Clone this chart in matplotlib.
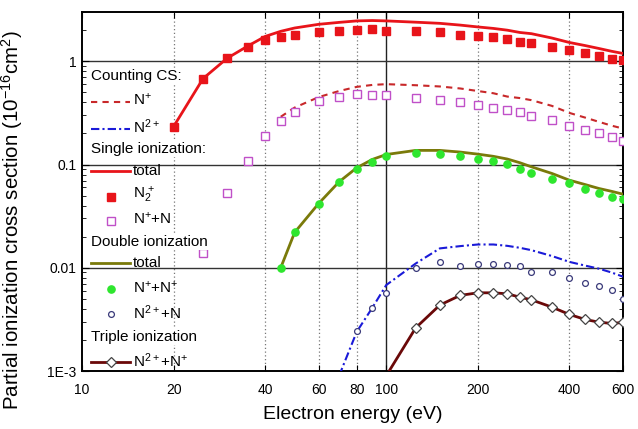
import numpy as np
import matplotlib
matplotlib.use("Agg")
import matplotlib.pyplot as plt
from matplotlib.lines import Line2D

plt.rcParams['font.family'] = ['Liberation Sans', 'DejaVu Sans']
plt.rcParams['mathtext.default'] = 'regular'

nan = np.nan

# Electron energies (eV)
energy = [20, 25, 30, 35, 40, 45, 50, 60, 70, 80, 90, 100, 125, 150, 175,
          200, 225, 250, 275, 300, 350, 400, 450, 500, 550, 600]

# Single ionization (10^-16 cm^2)
single_total = [0.233, 0.68, 1.07, 1.40, 1.74, 1.95, 2.10, 2.28, 2.38, 2.46, 2.48,
                2.46, 2.39, 2.33, 2.24, 2.15, 2.08, 2.00, 1.90, 1.85, 1.68, 1.52,
                1.42, 1.33, 1.25, 1.19]
n2_plus = [0.233, 0.68, 1.07, 1.36, 1.59, 1.70, 1.79, 1.90, 1.95, 2.00, 2.04,
           1.96, 1.95, 1.90, 1.81, 1.77, 1.70, 1.66, 1.54, 1.49, 1.38, 1.28,
           1.19, 1.13, 1.05, 1.02]
np_n = [nan, 0.0139, 0.0524, 0.109, 0.189, 0.264, 0.323, 0.41, 0.452, 0.478, 0.475,
        0.472, 0.44, 0.426, 0.404, 0.381, 0.356, 0.336, 0.319, 0.298, 0.272, 0.237,
        0.216, 0.201, 0.185, 0.169]

# Counting cross sections
count_n_plus = [nan, nan, nan, nan, nan, 0.29, 0.356, 0.45, 0.515, 0.565, 0.59,
                0.60, 0.586, 0.57, 0.545, 0.515, 0.49, 0.455, 0.44, 0.42, 0.37,
                0.316, 0.285, 0.259, 0.238, 0.223]
count_n2_plus = [nan, nan, nan, nan, nan, nan, nan, nan, 0.0009, 0.0024, 0.0041,
                 0.0068, 0.011, 0.0154, 0.0162, 0.0168, 0.0168, 0.0163, 0.0156,
                 0.0148, 0.013, 0.0114, 0.0105, 0.0098, 0.009, 0.0082]

# Double ionization
double_total = [nan, nan, nan, nan, nan, 0.010, 0.022, 0.042, 0.068, 0.093, 0.112,
                0.125, 0.137, 0.137, 0.132, 0.126, 0.12, 0.113, 0.104, 0.095,
                0.082, 0.0705, 0.064, 0.0586, 0.055, 0.0516]
np_np = [nan, nan, nan, nan, nan, 0.010, 0.0223, 0.0413, 0.067, 0.090, 0.106,
         0.12, 0.129, 0.127, 0.121, 0.113, 0.107, 0.101, 0.0908, 0.0836, 0.0731,
         0.0659, 0.0573, 0.0524, 0.0482, 0.0465]
n2p_n = [nan, nan, nan, nan, nan, nan, nan, nan, nan, 0.00242, 0.00406,
         0.00571, 0.010, 0.0113, 0.0104, 0.0109, 0.0109, 0.0107, 0.0104, 0.0091,
         0.0090, 0.0079, 0.00705, 0.00664, 0.00607, 0.00493]

# Triple ionization
n2p_np = [nan, nan, nan, nan, nan, nan, nan, nan, nan, nan, nan,
          0.0009, 0.00262, 0.00435, 0.0054, 0.00572, 0.00572, 0.00559, 0.00519,
          0.00489, 0.00416, 0.00353, 0.00316, 0.00297, 0.00289, 0.00295]

x_ticks = [10, 20, 40, 60, 80, 100, 200, 400, 600]
y_ticks = [1e-3, 1e-2, 1e-1, 1]
y_ticklabels = ['1E-3', '0.01', '0.1', '1']

W, H = 638, 429
fig = plt.figure(figsize=(W / 100, H / 100), dpi=100)
ax = fig.add_axes([82 / W, 1 - 371 / H, 541 / W, 359 / H])
ax.set_xscale('log')
ax.set_yscale('log')
ax.set_xlim(10, 600)
ax.set_ylim(1e-3, 3)

# reference lines
for xv in [20, 40, 60, 80, 200, 400]:
    ax.axvline(xv, color='#777777', lw=0.9, ls=(0, (1, 2)), zorder=1)
ax.axvline(100, color='#222222', lw=1.0, zorder=1)
for yv in [1, 0.1, 0.01]:
    ax.axhline(yv, color='#333333', lw=1.0, zorder=1)

e = np.array(energy, dtype=float)

c_red = '#e8141a'
c_mag = '#c050c8'
c_dred = '#c8282a'
c_blue = '#1a1ad8'
c_olive = '#7a7a0a'
c_green = '#2ee62e'
c_navy = '#3a3a7a'
c_maroon = '#6a0808'

ax.plot(e, count_n_plus, color=c_dred, lw=1.5, ls=(0, (3, 2.5)), zorder=3)
ax.plot(e, count_n2_plus, color=c_blue, lw=1.5, ls=(0, (4, 1.5, 1, 1.5)), zorder=3)
ax.plot(e, single_total, color=c_red, lw=2.0, zorder=3)
ax.plot(e, n2_plus, ls='none', marker='s', ms=5.2, color=c_red, zorder=4)
ax.plot(e, np_n, ls='none', marker='s', ms=5.2, mfc='white', mec=c_mag, mew=1.0, zorder=4)
ax.plot(e, double_total, color=c_olive, lw=2.0, zorder=3)
ax.plot(e, np_np, ls='none', marker='o', ms=5.2, color=c_green, zorder=4)
ax.plot(e, n2p_n, ls='none', marker='o', ms=4.2, mfc='white', mec=c_navy, mew=0.9, zorder=4)
ax.plot(e, n2p_np, color=c_maroon, lw=2.0, marker='D', ms=5.2, mfc='white',
        mec='#444444', mew=0.9, markevery=list(range(12, len(energy))), zorder=4)

ax.set_xticks(x_ticks)
ax.set_xticklabels([str(v) for v in x_ticks])
ax.xaxis.set_minor_locator(matplotlib.ticker.NullLocator())
ax.set_yticks(y_ticks)
ax.set_yticklabels(y_ticklabels)
ax.yaxis.set_minor_locator(matplotlib.ticker.LogLocator(base=10, subs=np.arange(2, 10)))
ax.yaxis.set_minor_formatter(matplotlib.ticker.NullFormatter())
ax.tick_params(axis='both', which='both', direction='in', top=True, right=True,
               labelsize=10, colors='black')
ax.tick_params(axis='x', which='major', length=4, pad=9)
ax.tick_params(axis='y', which='major', length=5, pad=4)
ax.tick_params(axis='y', which='minor', length=3)
for s in ax.spines.values():
    s.set_linewidth(1.4)

ax.set_xlabel('Electron energy (eV)', fontsize=14, labelpad=6)
ax.set_ylabel('Partial ionization cross section (10$^{-16}$cm$^{2}$)', fontsize=14.8)
ax.yaxis.set_label_coords(-0.106, 0.42)


# hand-placed key in the upper-left of the plot (pixel positions)
def fx(px):
    return px / W


def fy(py):
    return 1 - py / H


tf = fig.transFigure
key_fs = 11
hx0, hx1, mx, tx = 91, 130, 111, 133


def header(py, text):
    fig.text(fx(hx0), fy(py), text, fontsize=key_fs, va='center', ha='left',
             bbox=dict(facecolor='white', edgecolor='none', pad=0.5), zorder=6)


def label(py, text):
    fig.text(fx(tx), fy(py), text, fontsize=key_fs, va='center', ha='left', zorder=6)


def key_line(py, **kw):
    fig.add_artist(Line2D([fx(hx0), fx(hx1)], [fy(py), fy(py)], transform=tf, **kw))


def key_marker(py, **kw):
    fig.add_artist(Line2D([fx(mx)], [fy(py)], transform=tf, ls='none', **kw))


header(76, 'Counting CS:')
key_line(102, color=c_dred, lw=1.5, ls=(0, (3, 2.5)))
label(100, 'N$^{+}$')
key_line(129, color=c_blue, lw=1.5, ls=(0, (4, 1.5, 1, 1.5)))
label(127, 'N$^{2+}$')
header(149, 'Single ionization:')
key_line(171, color=c_red, lw=2.0)
label(171, 'total')
key_marker(197, marker='s', ms=5.2, color=c_red)
label(195, 'N$_{2}^{\\,+}$')
key_marker(221, marker='s', ms=5.2, mfc='white', mec=c_mag, mew=1.0)
label(219, 'N$^{+}$+N')
header(242, 'Double ionization')
key_line(263, color=c_olive, lw=2.0)
label(263, 'total')
key_marker(289, marker='o', ms=5.2, color=c_green)
label(288, 'N$^{+}$+N$^{+}$')
key_marker(314, marker='o', ms=4.2, mfc='white', mec=c_navy, mew=0.9)
label(313, 'N$^{2+}$+N')
header(337, 'Triple ionization')
key_line(362, color=c_maroon, lw=2.0)
key_marker(362, marker='D', ms=5.2, mfc='white', mec='#444444', mew=0.9)
label(361, 'N$^{2+}$+N$^{+}$')

fig.savefig('out.png', dpi=100)
